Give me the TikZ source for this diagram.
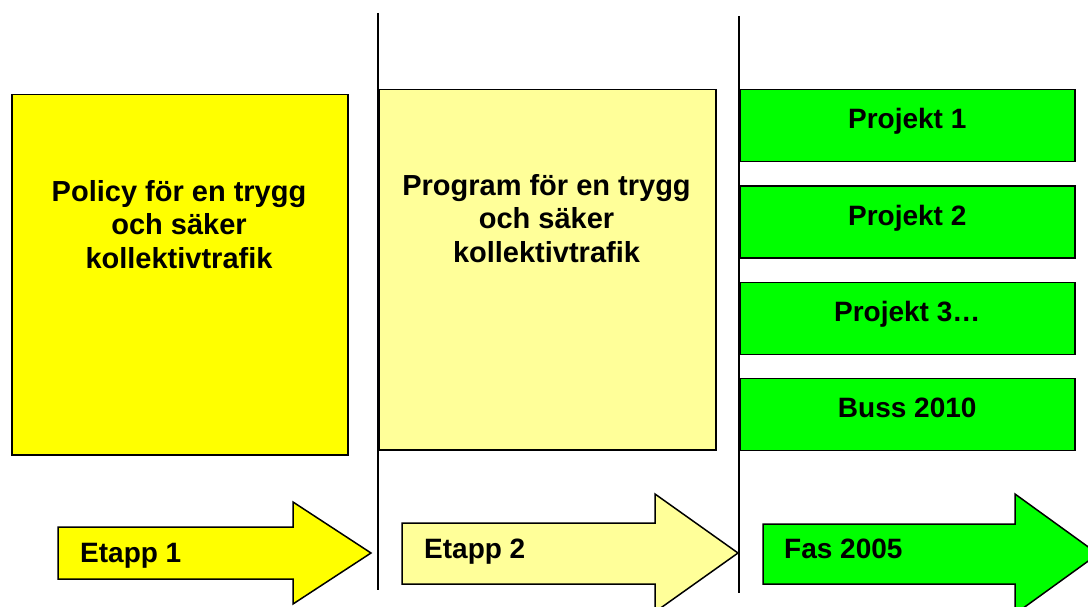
\documentclass[tikz,border=0pt]{standalone}
\usepackage{fontspec}
\setmainfont{Liberation Sans}
\usetikzlibrary{positioning}

\definecolor{policyyellow}{HTML}{FFFF00}
\definecolor{programyellow}{HTML}{FFFF99}
\definecolor{projectgreen}{HTML}{00FF00}

\begin{document}
\begin{tikzpicture}[x=1pt, y=-1pt]
	\tikzset{box/.style={draw, rectangle, line width=1.5pt, inner sep=0pt},
		boxtext/.style={font=\fontsize{29}{33.5}\selectfont\bfseries, align=center, inner sep=0pt},
		projbox/.style={box, fill=projectgreen, minimum width=335pt, minimum height=72pt,
			font=\fontsize{28}{32}\selectfont\bfseries, text height=20pt, text depth=14pt},
		phase/.style={draw, line width=1.5pt, line join=miter},
		phasetext/.style={font=\fontsize{28}{32}\selectfont\bfseries, inner sep=0pt, anchor=base west},
		divider/.style={line width=1.5pt}}

	\useasboundingbox (0,0) rectangle (1088,607);
	\clip (0,0) rectangle (1088,607);

	% etapp 1
	\node[box, fill=policyyellow, anchor=north west, minimum width=336pt, minimum height=360pt] (policy) at (11,94) {};
	\node[boxtext, anchor=north] (policytext) at (179,180) {Policy för en trygg\\och säker\\kollektivtrafik};

	% etapp 2
	\node[box, fill=programyellow, anchor=north west, minimum width=337pt, minimum height=360pt] (program) at (378,89) {};
	\node[boxtext, anchor=north] (programtext) at (546.5,174) {Program för en trygg\\och säker\\kollektivtrafik};

	% fas 2005
	\node[projbox, anchor=north west] (proj1) at (739,89) {Projekt 1};
	\node[projbox, below=22.8pt of proj1] (proj2) {Projekt 2};
	\node[projbox, below=22.8pt of proj2] (proj3) {Projekt 3…};
	\node[projbox, below=22.8pt of proj3] (buss) {Buss 2010};

	% dividers
	\coordinate (div1 top) at (378,13);
	\coordinate (div1 bottom) at (378,590);
	\coordinate (div2 top) at (739,16);
	\coordinate (div2 bottom) at (739,593);
	\draw[divider] (div1 top) -- (div1 bottom);
	\draw[divider] (div2 top) -- (div2 bottom);

	% block arrows
	\draw[phase, fill=policyyellow] (58,527) -- (293,527) -- (293,502) -- (371,553) -- (293,604) -- (293,579) -- (58,579) -- cycle;
	\draw[phase, fill=programyellow] (402,523) -- (655,523) -- (655,494) -- (738,553) -- (655,612) -- (655,584) -- (402,584) -- cycle;
	\draw[phase, fill=projectgreen] (763,524) -- (1015,524) -- (1015,494) -- (1098,554) -- (1015,614) -- (1015,584) -- (763,584) -- cycle;

	\node[phasetext] (etapp1) at (80,562) {Etapp 1};
	\node[phasetext] (etapp2) at (424,558) {Etapp 2};
	\node[phasetext] (fas) at (784,558) {Fas 2005};
\end{tikzpicture}
\end{document}
